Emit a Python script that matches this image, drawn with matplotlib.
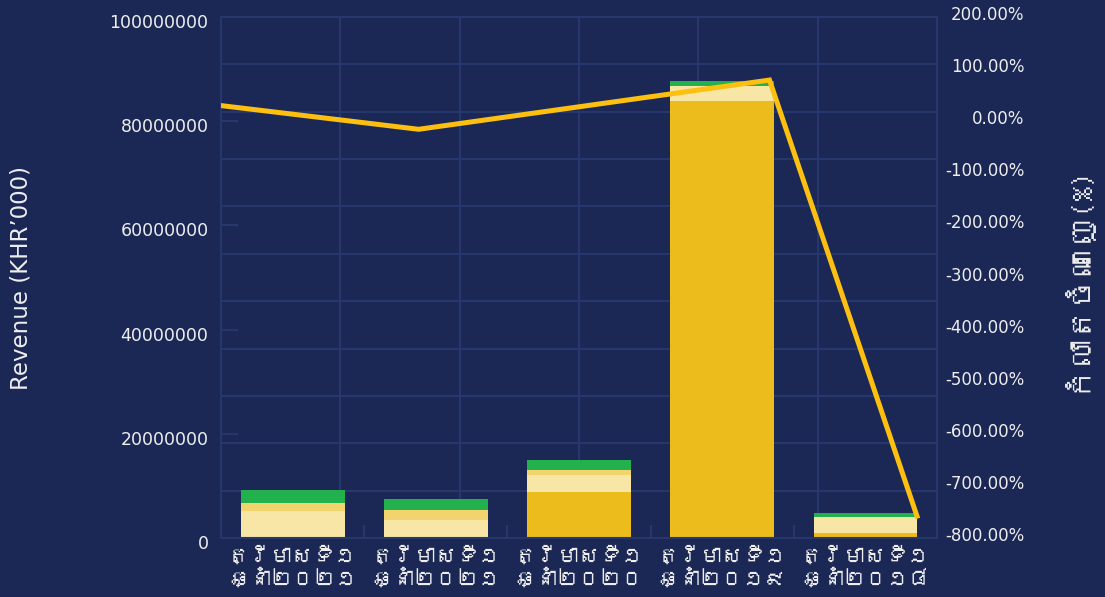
import matplotlib
matplotlib.use("Agg")
import matplotlib.pyplot as plt
from matplotlib import font_manager
from matplotlib.ft2font import FT2Font
from matplotlib.ticker import FixedLocator, FuncFormatter
from matplotlib.transforms import ScaledTranslation
import numpy as np

# ---------------- data ----------------
categories = ["ត្រីមាសទី១\nឆ្នាំ២០២១", "ត្រីមាសទី១\nឆ្នាំ២០២១", "ត្រីមាសទី១\nឆ្នាំ២០២០",
              "ត្រីមាសទី១\nឆ្នាំ២០១៩", "ត្រីមាសទី១\nឆ្នាំ២០១៨"]
seg_gold = [0, 0, 8.8e6, 83.9e6, 0.96e6]
seg_pale = [5.2e6, 3.45e6, 3.3e6, 2.85e6, 3.05e6]
seg_medium = [1.5e6, 1.9e6, 0.95e6, 0, 0]
seg_green = [2.5e6, 2.1e6, 1.9e6, 0.95e6, 0.8e6]
growth_pct = [30, -15.5, 79, -758]
growth_x = [-0.5, 0.88, 3.33, 4.36]
left_ticks = [0, 20000000, 40000000, 60000000, 80000000, 100000000]
right_ticks = [-800, -700, -600, -500, -400, -300, -200, -100, 0, 100, 200]
left_title = "Revenue (KHR’000)"
right_title = "កំលាតចំណេញ(%)"

# ---------------- fonts ----------------
khmer_family = None
for f in font_manager.fontManager.ttflist:
    try:
        if 0x1780 in FT2Font(f.fname).get_charmap():
            khmer_family = f.name
            break
    except Exception:
        pass
fams = ["DejaVu Sans"]
khm_fams = ([khmer_family] if khmer_family else []) + ["DejaVu Sans"]
plt.rcParams["font.family"] = fams

BG = "#1B2856"
GRID = "#26386B"
TXT = "#EEEEEE"
C_GOLD = "#ECBC1D"
C_PALE = "#F7E6A5"
C_MED = "#F2D46F"
C_GREEN = "#22B14D"
C_LINE = "#FDC010"

fig = plt.figure(figsize=(11.05, 5.97), dpi=100, facecolor=BG)
ax = fig.add_axes([0.2, 0.0988, 0.648, 0.8727])
ax.set_facecolor(BG)

# grid (11 x 6)
for k in range(1, 11):
    ax.plot([0, 1], [k / 11, k / 11], color=GRID, lw=1.5, zorder=0, transform=ax.transAxes)
for k in range(1, 6):
    ax.plot([k / 6, k / 6], [0, 1], color=GRID, lw=1.5, zorder=0, transform=ax.transAxes)

x = np.arange(len(categories))
w = 0.725
bottom = np.zeros(len(categories))
for vals, col in [(seg_gold, C_GOLD), (seg_pale, C_PALE), (seg_medium, C_MED), (seg_green, C_GREEN)]:
    ax.bar(x, vals, width=w, bottom=bottom, color=col, zorder=2, linewidth=0)
    bottom += np.array(vals)

ax.set_xlim(-0.5, len(categories) - 0.5)
ax.set_ylim(0, 100000000)
ax.set_xticks(x)
ax.set_xticklabels(categories, family=khm_fams, fontsize=15.5, color=TXT, linespacing=1.15)
ax.xaxis.set_minor_locator(FixedLocator(x[:-1] + 0.5))
ax.tick_params(axis="x", which="major", length=0, pad=6)
ax.tick_params(axis="x", which="minor", direction="in", length=9.5, color=GRID, width=1.5)
ax.set_yticks(left_ticks)
ax.yaxis.set_major_formatter(FuncFormatter(lambda v, p: f"{int(v)}"))
ax.tick_params(axis="y", direction="in", length=12, color=GRID, width=1.5,
               labelsize=12.5, labelcolor=TXT, pad=9)
off_down = ScaledTranslation(0, -4 / 100, fig.dpi_scale_trans)
for lab in ax.get_yticklabels():
    lab.set_transform(lab.get_transform() + off_down)
ax.set_ylabel(left_title, fontsize=16.5, color=TXT)
ax.yaxis.set_label_coords(-0.263, 0.5)
for s in ax.spines.values():
    s.set_color(GRID)
    s.set_linewidth(1.5)

ax2 = ax.twinx()
ax2.set_ylim(-800, 200)
ax2.set_yticks(right_ticks)
ax2.yaxis.set_major_formatter(FuncFormatter(lambda v, p: f"{v:.2f}%"))
ax2.tick_params(axis="y", length=0, labelsize=12, labelcolor=TXT, pad=63)
off_up = ScaledTranslation(0, 4 / 100, fig.dpi_scale_trans)
for lab in ax2.get_yticklabels():
    lab.set_ha("right")
    lab.set_transform(lab.get_transform() + off_up)
for s in ax2.spines.values():
    s.set_visible(False)
ax2.plot(growth_x, growth_pct, color=C_LINE, lw=3.6, zorder=5, solid_joinstyle="miter")
ax2.set_ylabel(right_title, family=khm_fams, fontsize=22, color=TXT)
ax2.yaxis.set_label_coords(1.170, 0.5)

fig.savefig("out.png", dpi=100, facecolor=BG)
